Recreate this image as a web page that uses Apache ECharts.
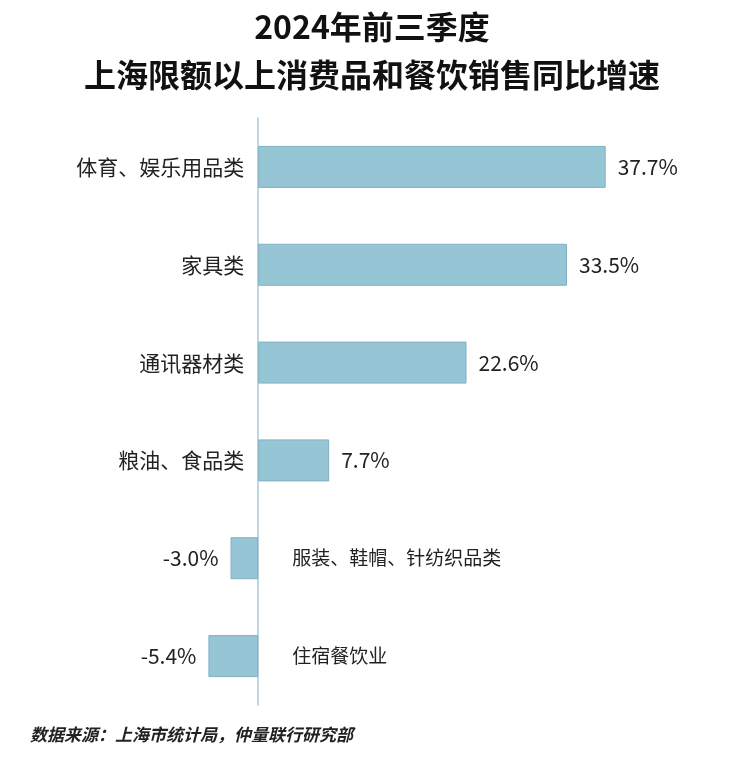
<!DOCTYPE html>
<html><head><meta charset="utf-8">
<script src="https://cdn.jsdelivr.net/npm/echarts@6/dist/echarts.min.js"></script>
<style>body{margin:0;background:#fff}#c{width:744px;height:760px}</style>
</head><body><div id="c"></div>
<script>
const categories = ['体育、娱乐用品类','家具类','通讯器材类','粮油、食品类','服装、鞋帽、针纺织品类','住宿餐饮业'];
const values = [37.7, 33.5, 22.6, 7.7, -3.0, -5.4];
const chart = echarts.init(document.getElementById('c'));
const font = '"Noto Sans CJK SC", "Noto Sans", sans-serif';
chart.setOption({
  animation:false,
  title:{text:'2024年前三季度\n上海限额以上消费品和餐饮销售同比增速',left:'center',top:-2,
    textStyle:{fontSize:32,fontWeight:'bold',color:'#111',lineHeight:48,fontFamily:font}},
  graphic:[{type:'text',left:30,top:726,style:{text:'数据来源：上海市统计局，仲量联行研究部',font:'italic bold 17px '+font,fill:'#222'}}],
  grid:{left:166,right:71,top:118,bottom:55},
  xAxis:{type:'value',min:-10,max:45,show:false},
  yAxis:{type:'category',data:categories,inverse:true,
    axisLine:{lineStyle:{color:'#a9c9d5',width:1.5}},axisTick:{show:false},axisLabel:{show:false}},
  series:[{type:'bar',barWidth:42,data:values.map(v=>({value:v,label:{position:v>=0?'right':'left'}})),
    itemStyle:{color:'#96c5d5',borderColor:'#7fb2c4',borderWidth:1},
    label:{show:true,distance:12,fontSize:21,color:'#222',fontFamily:font,formatter:p=>p.value.toFixed(1)+'%'}},
   {type:'bar',barWidth:42,barGap:'-100%',data:values.map(v=>({value:0,label:{position:v>=0?'left':'right',distance:v>=0?14:34,fontSize:v>=0?21:19}})),
    itemStyle:{color:'transparent'},
    label:{show:true,color:'#222',fontFamily:font,formatter:p=>categories[p.dataIndex]}}]
});
</script></body></html>
